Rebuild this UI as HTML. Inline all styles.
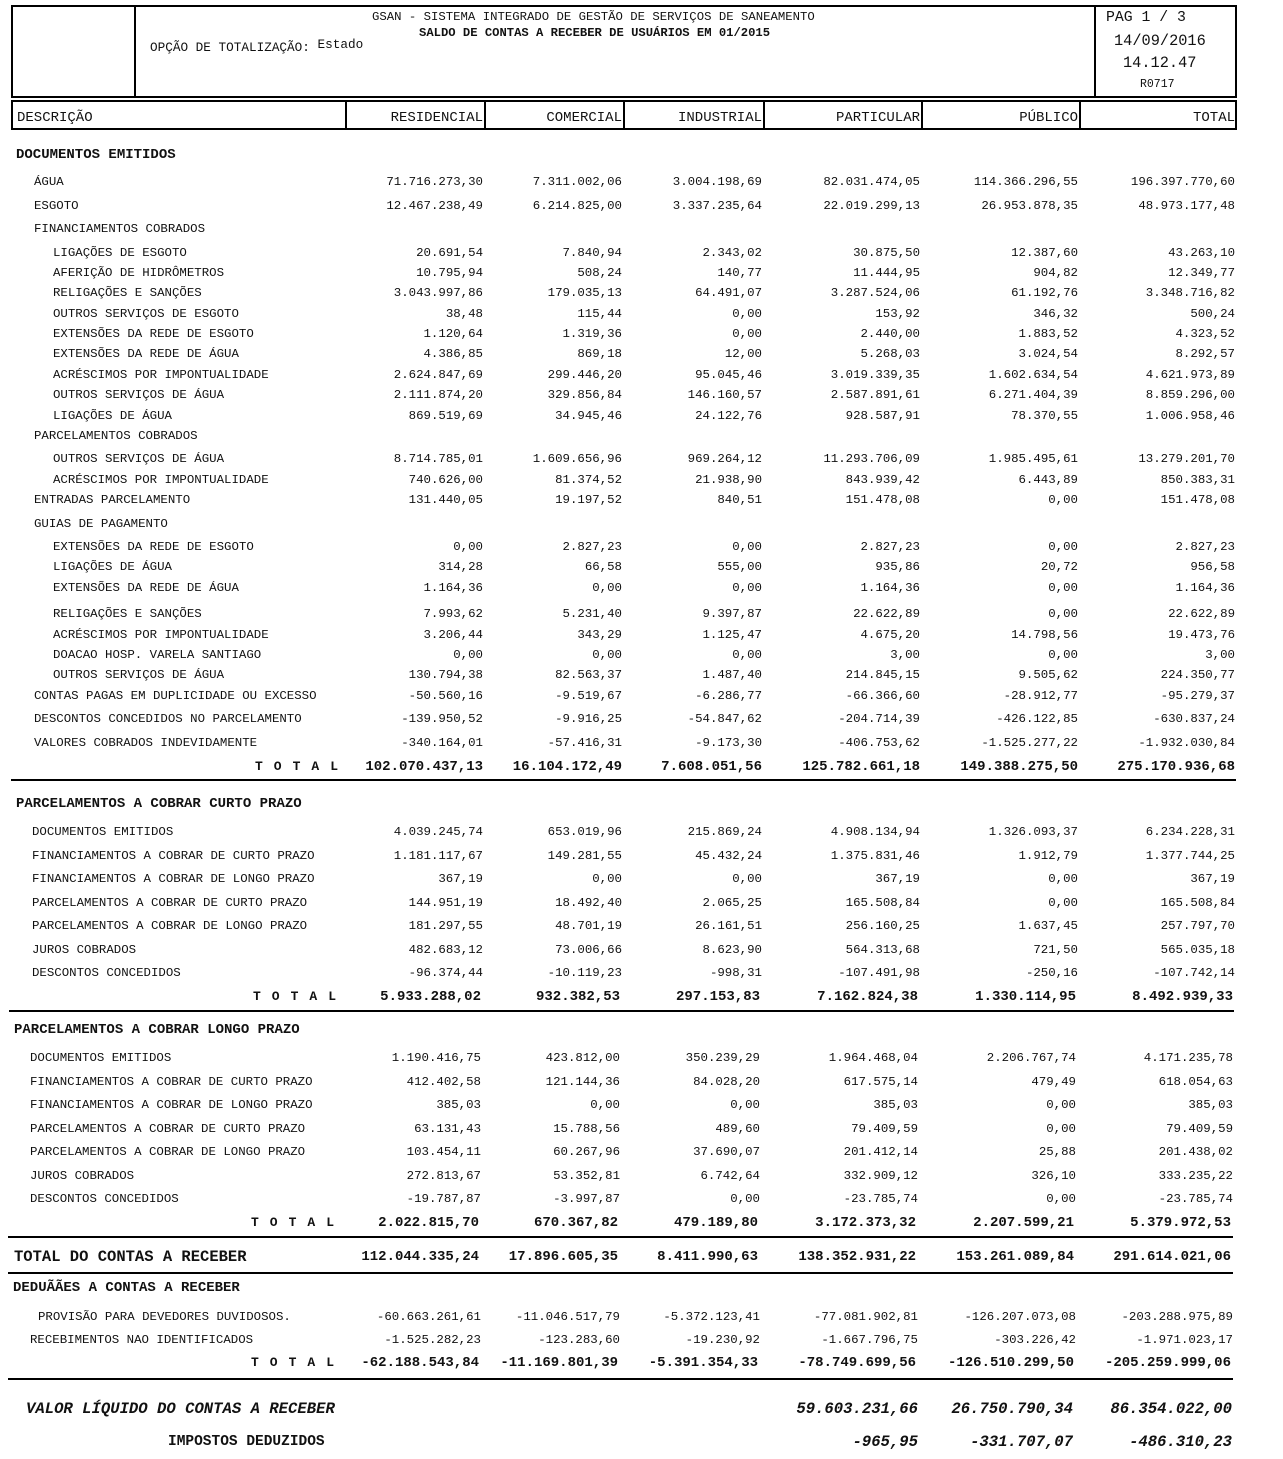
<!DOCTYPE html>
<html><head><meta charset="utf-8"><style>
body{margin:0;background:#fff;width:1283px;height:1459px;position:relative;overflow:hidden;font-family:"Liberation Mono",monospace;color:#111}
.b{position:absolute;border:2px solid #000;box-sizing:border-box}
.l{position:absolute;background:#000;height:2px}
.r{position:absolute;left:0;width:1283px;height:16px;line-height:16px;font-size:12.4px;white-space:pre;margin-top:1px}
.r span{position:absolute}
.a{right:800px}.c{right:661px}.i{right:521px}.p{right:363px}.u{right:205px}.t{right:48px}
.k{font-weight:bold;font-size:14px}
.h{font-weight:bold;font-size:14px}
.tt{font-weight:bold;font-size:13px;letter-spacing:1.6px;left:255px}
.v{font-weight:bold;font-style:italic;font-size:15.6px}
.x{position:absolute;white-space:pre}
</style></head><body>
<div class="b" style="left:11px;top:5px;width:1226px;height:93px"></div>
<div class="l" style="left:134px;top:5px;width:2px;height:93px"></div>
<div class="l" style="left:1094px;top:5px;width:2px;height:93px"></div>
<div class="x" style="left:372px;top:10px;font-size:12.3px">GSAN - SISTEMA INTEGRADO DE GESTÃO DE SERVIÇOS DE SANEAMENTO</div>
<div class="x" style="left:419px;top:26px;font-size:12.2px;font-weight:bold">SALDO DE CONTAS A RECEBER DE USUÁRIOS EM 01/2015</div>
<div class="x" style="left:150px;top:40px;font-size:12.7px">OPÇÃO DE TOTALIZAÇÃO: <span style="position:relative;top:-3px">Estado</span></div>
<div class="x" style="left:1106px;top:10px;font-size:14.8px">PAG 1 / 3</div>
<div class="x" style="left:1114px;top:32px;font-size:15.3px">14/09/2016</div>
<div class="x" style="left:1123px;top:54px;font-size:15.3px">14.12.47</div>
<div class="x" style="left:1140px;top:78px;font-size:11.5px">R0717</div>
<div class="b" style="left:11px;top:100px;width:1226px;height:30px"></div>
<div class="l" style="left:345px;top:100px;width:2px;height:30px"></div>
<div class="l" style="left:484px;top:100px;width:2px;height:30px"></div>
<div class="l" style="left:623px;top:100px;width:2px;height:30px"></div>
<div class="l" style="left:763px;top:100px;width:2px;height:30px"></div>
<div class="l" style="left:921px;top:100px;width:2px;height:30px"></div>
<div class="l" style="left:1079px;top:100px;width:2px;height:30px"></div>
<div class="r" style="top:109px;font-size:14px"><span style="left:17px">DESCRIÇÃO</span><span class="a">RESIDENCIAL</span><span class="c">COMERCIAL</span><span class="i">INDUSTRIAL</span><span class="p">PARTICULAR</span><span class="u">PÚBLICO</span><span class="t">TOTAL</span></div>

<div class="r h" style="top:146px"><span style="left:16px">DOCUMENTOS EMITIDOS</span></div>
<div class="r" style="top:173px"><span style="left:34px">ÁGUA</span><span class="a">71.716.273,30</span><span class="c">7.311.002,06</span><span class="i">3.004.198,69</span><span class="p">82.031.474,05</span><span class="u">114.366.296,55</span><span class="t">196.397.770,60</span></div>
<div class="r" style="top:197px"><span style="left:34px">ESGOTO</span><span class="a">12.467.238,49</span><span class="c">6.214.825,00</span><span class="i">3.337.235,64</span><span class="p">22.019.299,13</span><span class="u">26.953.878,35</span><span class="t">48.973.177,48</span></div>
<div class="r" style="top:220px"><span style="left:34px">FINANCIAMENTOS COBRADOS</span></div>
<div class="r" style="top:244px"><span style="left:53px">LIGAÇÕES DE ESGOTO</span><span class="a">20.691,54</span><span class="c">7.840,94</span><span class="i">2.343,02</span><span class="p">30.875,50</span><span class="u">12.387,60</span><span class="t">43.263,10</span></div>
<div class="r" style="top:264px"><span style="left:53px">AFERIÇÃO DE HIDRÔMETROS</span><span class="a">10.795,94</span><span class="c">508,24</span><span class="i">140,77</span><span class="p">11.444,95</span><span class="u">904,82</span><span class="t">12.349,77</span></div>
<div class="r" style="top:284px"><span style="left:53px">RELIGAÇÕES E SANÇÕES</span><span class="a">3.043.997,86</span><span class="c">179.035,13</span><span class="i">64.491,07</span><span class="p">3.287.524,06</span><span class="u">61.192,76</span><span class="t">3.348.716,82</span></div>
<div class="r" style="top:305px"><span style="left:53px">OUTROS SERVIÇOS DE ESGOTO</span><span class="a">38,48</span><span class="c">115,44</span><span class="i">0,00</span><span class="p">153,92</span><span class="u">346,32</span><span class="t">500,24</span></div>
<div class="r" style="top:325px"><span style="left:53px">EXTENSÕES DA REDE DE ESGOTO</span><span class="a">1.120,64</span><span class="c">1.319,36</span><span class="i">0,00</span><span class="p">2.440,00</span><span class="u">1.883,52</span><span class="t">4.323,52</span></div>
<div class="r" style="top:345px"><span style="left:53px">EXTENSÕES DA REDE DE ÁGUA</span><span class="a">4.386,85</span><span class="c">869,18</span><span class="i">12,00</span><span class="p">5.268,03</span><span class="u">3.024,54</span><span class="t">8.292,57</span></div>
<div class="r" style="top:366px"><span style="left:53px">ACRÉSCIMOS POR IMPONTUALIDADE</span><span class="a">2.624.847,69</span><span class="c">299.446,20</span><span class="i">95.045,46</span><span class="p">3.019.339,35</span><span class="u">1.602.634,54</span><span class="t">4.621.973,89</span></div>
<div class="r" style="top:386px"><span style="left:53px">OUTROS SERVIÇOS DE ÁGUA</span><span class="a">2.111.874,20</span><span class="c">329.856,84</span><span class="i">146.160,57</span><span class="p">2.587.891,61</span><span class="u">6.271.404,39</span><span class="t">8.859.296,00</span></div>
<div class="r" style="top:407px"><span style="left:53px">LIGAÇÕES DE ÁGUA</span><span class="a">869.519,69</span><span class="c">34.945,46</span><span class="i">24.122,76</span><span class="p">928.587,91</span><span class="u">78.370,55</span><span class="t">1.006.958,46</span></div>
<div class="r" style="top:427px"><span style="left:34px">PARCELAMENTOS COBRADOS</span></div>
<div class="r" style="top:450px"><span style="left:53px">OUTROS SERVIÇOS DE ÁGUA</span><span class="a">8.714.785,01</span><span class="c">1.609.656,96</span><span class="i">969.264,12</span><span class="p">11.293.706,09</span><span class="u">1.985.495,61</span><span class="t">13.279.201,70</span></div>
<div class="r" style="top:471px"><span style="left:53px">ACRÉSCIMOS POR IMPONTUALIDADE</span><span class="a">740.626,00</span><span class="c">81.374,52</span><span class="i">21.938,90</span><span class="p">843.939,42</span><span class="u">6.443,89</span><span class="t">850.383,31</span></div>
<div class="r" style="top:491px"><span style="left:34px">ENTRADAS PARCELAMENTO</span><span class="a">131.440,05</span><span class="c">19.197,52</span><span class="i">840,51</span><span class="p">151.478,08</span><span class="u">0,00</span><span class="t">151.478,08</span></div>
<div class="r" style="top:515px"><span style="left:34px">GUIAS DE PAGAMENTO</span></div>
<div class="r" style="top:538px"><span style="left:53px">EXTENSÕES DA REDE DE ESGOTO</span><span class="a">0,00</span><span class="c">2.827,23</span><span class="i">0,00</span><span class="p">2.827,23</span><span class="u">0,00</span><span class="t">2.827,23</span></div>
<div class="r" style="top:558px"><span style="left:53px">LIGAÇÕES DE ÁGUA</span><span class="a">314,28</span><span class="c">66,58</span><span class="i">555,00</span><span class="p">935,86</span><span class="u">20,72</span><span class="t">956,58</span></div>
<div class="r" style="top:579px"><span style="left:53px">EXTENSÕES DA REDE DE ÁGUA</span><span class="a">1.164,36</span><span class="c">0,00</span><span class="i">0,00</span><span class="p">1.164,36</span><span class="u">0,00</span><span class="t">1.164,36</span></div>
<div class="r" style="top:605px"><span style="left:53px">RELIGAÇÕES E SANÇÕES</span><span class="a">7.993,62</span><span class="c">5.231,40</span><span class="i">9.397,87</span><span class="p">22.622,89</span><span class="u">0,00</span><span class="t">22.622,89</span></div>
<div class="r" style="top:626px"><span style="left:53px">ACRÉSCIMOS POR IMPONTUALIDADE</span><span class="a">3.206,44</span><span class="c">343,29</span><span class="i">1.125,47</span><span class="p">4.675,20</span><span class="u">14.798,56</span><span class="t">19.473,76</span></div>
<div class="r" style="top:646px"><span style="left:53px">DOACAO HOSP. VARELA SANTIAGO</span><span class="a">0,00</span><span class="c">0,00</span><span class="i">0,00</span><span class="p">3,00</span><span class="u">0,00</span><span class="t">3,00</span></div>
<div class="r" style="top:666px"><span style="left:53px">OUTROS SERVIÇOS DE ÁGUA</span><span class="a">130.794,38</span><span class="c">82.563,37</span><span class="i">1.487,40</span><span class="p">214.845,15</span><span class="u">9.505,62</span><span class="t">224.350,77</span></div>
<div class="r" style="top:687px"><span style="left:34px">CONTAS PAGAS EM DUPLICIDADE OU EXCESSO</span><span class="a">-50.560,16</span><span class="c">-9.519,67</span><span class="i">-6.286,77</span><span class="p">-66.366,60</span><span class="u">-28.912,77</span><span class="t">-95.279,37</span></div>
<div class="r" style="top:710px"><span style="left:34px">DESCONTOS CONCEDIDOS NO PARCELAMENTO</span><span class="a">-139.950,52</span><span class="c">-9.916,25</span><span class="i">-54.847,62</span><span class="p">-204.714,39</span><span class="u">-426.122,85</span><span class="t">-630.837,24</span></div>
<div class="r" style="top:734px"><span style="left:34px">VALORES COBRADOS INDEVIDAMENTE</span><span class="a">-340.164,01</span><span class="c">-57.416,31</span><span class="i">-9.173,30</span><span class="p">-406.753,62</span><span class="u">-1.525.277,22</span><span class="t">-1.932.030,84</span></div>
<div class="r k" style="top:758px"><span class="tt">T O T A L</span><span class="a">102.070.437,13</span><span class="c">16.104.172,49</span><span class="i">7.608.051,56</span><span class="p">125.782.661,18</span><span class="u">149.388.275,50</span><span class="t">275.170.936,68</span></div>
<div class="l" style="left:11px;top:779px;width:1225px"></div>

<div class="r h" style="top:795px"><span style="left:16px">PARCELAMENTOS A COBRAR CURTO PRAZO</span></div>
<div class="r" style="top:823px"><span style="left:32px">DOCUMENTOS EMITIDOS</span><span class="a">4.039.245,74</span><span class="c">653.019,96</span><span class="i">215.869,24</span><span class="p">4.908.134,94</span><span class="u">1.326.093,37</span><span class="t">6.234.228,31</span></div>
<div class="r" style="top:847px"><span style="left:32px">FINANCIAMENTOS A COBRAR DE CURTO PRAZO</span><span class="a">1.181.117,67</span><span class="c">149.281,55</span><span class="i">45.432,24</span><span class="p">1.375.831,46</span><span class="u">1.912,79</span><span class="t">1.377.744,25</span></div>
<div class="r" style="top:870px"><span style="left:32px">FINANCIAMENTOS A COBRAR DE LONGO PRAZO</span><span class="a">367,19</span><span class="c">0,00</span><span class="i">0,00</span><span class="p">367,19</span><span class="u">0,00</span><span class="t">367,19</span></div>
<div class="r" style="top:894px"><span style="left:32px">PARCELAMENTOS A COBRAR DE CURTO PRAZO</span><span class="a">144.951,19</span><span class="c">18.492,40</span><span class="i">2.065,25</span><span class="p">165.508,84</span><span class="u">0,00</span><span class="t">165.508,84</span></div>
<div class="r" style="top:917px"><span style="left:32px">PARCELAMENTOS A COBRAR DE LONGO PRAZO</span><span class="a">181.297,55</span><span class="c">48.701,19</span><span class="i">26.161,51</span><span class="p">256.160,25</span><span class="u">1.637,45</span><span class="t">257.797,70</span></div>
<div class="r" style="top:941px"><span style="left:32px">JUROS COBRADOS</span><span class="a">482.683,12</span><span class="c">73.006,66</span><span class="i">8.623,90</span><span class="p">564.313,68</span><span class="u">721,50</span><span class="t">565.035,18</span></div>
<div class="r" style="top:964px"><span style="left:32px">DESCONTOS CONCEDIDOS</span><span class="a">-96.374,44</span><span class="c">-10.119,23</span><span class="i">-998,31</span><span class="p">-107.491,98</span><span class="u">-250,16</span><span class="t">-107.742,14</span></div>
<div class="r k" style="top:988px;left:-2px"><span class="tt">T O T A L</span><span class="a">5.933.288,02</span><span class="c">932.382,53</span><span class="i">297.153,83</span><span class="p">7.162.824,38</span><span class="u">1.330.114,95</span><span class="t">8.492.939,33</span></div>
<div class="l" style="left:9px;top:1010px;width:1225px"></div>

<div class="r h" style="top:1021px"><span style="left:14px">PARCELAMENTOS A COBRAR LONGO PRAZO</span></div>
<div class="r" style="top:1049px;left:-2px"><span style="left:32px">DOCUMENTOS EMITIDOS</span><span class="a">1.190.416,75</span><span class="c">423.812,00</span><span class="i">350.239,29</span><span class="p">1.964.468,04</span><span class="u">2.206.767,74</span><span class="t">4.171.235,78</span></div>
<div class="r" style="top:1073px;left:-2px"><span style="left:32px">FINANCIAMENTOS A COBRAR DE CURTO PRAZO</span><span class="a">412.402,58</span><span class="c">121.144,36</span><span class="i">84.028,20</span><span class="p">617.575,14</span><span class="u">479,49</span><span class="t">618.054,63</span></div>
<div class="r" style="top:1096px;left:-2px"><span style="left:32px">FINANCIAMENTOS A COBRAR DE LONGO PRAZO</span><span class="a">385,03</span><span class="c">0,00</span><span class="i">0,00</span><span class="p">385,03</span><span class="u">0,00</span><span class="t">385,03</span></div>
<div class="r" style="top:1120px;left:-2px"><span style="left:32px">PARCELAMENTOS A COBRAR DE CURTO PRAZO</span><span class="a">63.131,43</span><span class="c">15.788,56</span><span class="i">489,60</span><span class="p">79.409,59</span><span class="u">0,00</span><span class="t">79.409,59</span></div>
<div class="r" style="top:1143px;left:-2px"><span style="left:32px">PARCELAMENTOS A COBRAR DE LONGO PRAZO</span><span class="a">103.454,11</span><span class="c">60.267,96</span><span class="i">37.690,07</span><span class="p">201.412,14</span><span class="u">25,88</span><span class="t">201.438,02</span></div>
<div class="r" style="top:1167px;left:-2px"><span style="left:32px">JUROS COBRADOS</span><span class="a">272.813,67</span><span class="c">53.352,81</span><span class="i">6.742,64</span><span class="p">332.909,12</span><span class="u">326,10</span><span class="t">333.235,22</span></div>
<div class="r" style="top:1190px;left:-2px"><span style="left:32px">DESCONTOS CONCEDIDOS</span><span class="a">-19.787,87</span><span class="c">-3.997,87</span><span class="i">0,00</span><span class="p">-23.785,74</span><span class="u">0,00</span><span class="t">-23.785,74</span></div>
<div class="r k" style="top:1214px;left:-4px"><span class="tt">T O T A L</span><span class="a">2.022.815,70</span><span class="c">670.367,82</span><span class="i">479.189,80</span><span class="p">3.172.373,32</span><span class="u">2.207.599,21</span><span class="t">5.379.972,53</span></div>
<div class="l" style="left:8px;top:1236px;width:1225px"></div>

<div class="r k" style="top:1248px;left:-4px"><span style="left:18px;font-size:15.5px">TOTAL DO CONTAS A RECEBER</span><span class="a">112.044.335,24</span><span class="c">17.896.605,35</span><span class="i">8.411.990,63</span><span class="p">138.352.931,22</span><span class="u">153.261.089,84</span><span class="t">291.614.021,06</span></div>
<div class="l" style="left:8px;top:1272px;width:1225px"></div>
<div class="r h" style="top:1279px"><span style="left:13px">DEDUÃÃES A CONTAS A RECEBER</span></div>
<div class="r" style="top:1308px;left:-2px"><span style="left:40px">PROVISÃO PARA DEVEDORES DUVIDOSOS.</span><span class="a">-60.663.261,61</span><span class="c">-11.046.517,79</span><span class="i">-5.372.123,41</span><span class="p">-77.081.902,81</span><span class="u">-126.207.073,08</span><span class="t">-203.288.975,89</span></div>
<div class="r" style="top:1331px;left:-2px"><span style="left:32px">RECEBIMENTOS NAO IDENTIFICADOS</span><span class="a">-1.525.282,23</span><span class="c">-123.283,60</span><span class="i">-19.230,92</span><span class="p">-1.667.796,75</span><span class="u">-303.226,42</span><span class="t">-1.971.023,17</span></div>
<div class="r k" style="top:1354px;left:-4px"><span class="tt">T O T A L</span><span class="a">-62.188.543,84</span><span class="c">-11.169.801,39</span><span class="i">-5.391.354,33</span><span class="p">-78.749.699,56</span><span class="u">-126.510.299,50</span><span class="t">-205.259.999,06</span></div>
<div class="l" style="left:8px;top:1378px;width:1225px"></div>

<div class="r v" style="top:1400px"><span style="left:26px">VALOR LÍQUIDO DO CONTAS A RECEBER</span><span class="p" style="right:365px">59.603.231,66</span><span class="u" style="right:210px">26.750.790,34</span><span class="t" style="right:51px">86.354.022,00</span></div>
<div class="r v" style="top:1433px"><span style="left:168px;font-style:normal;font-size:14.5px">IMPOSTOS DEDUZIDOS</span><span class="p" style="right:365px">-965,95</span><span class="u" style="right:210px">-331.707,07</span><span class="t" style="right:51px">-486.310,23</span></div>
</body></html>
